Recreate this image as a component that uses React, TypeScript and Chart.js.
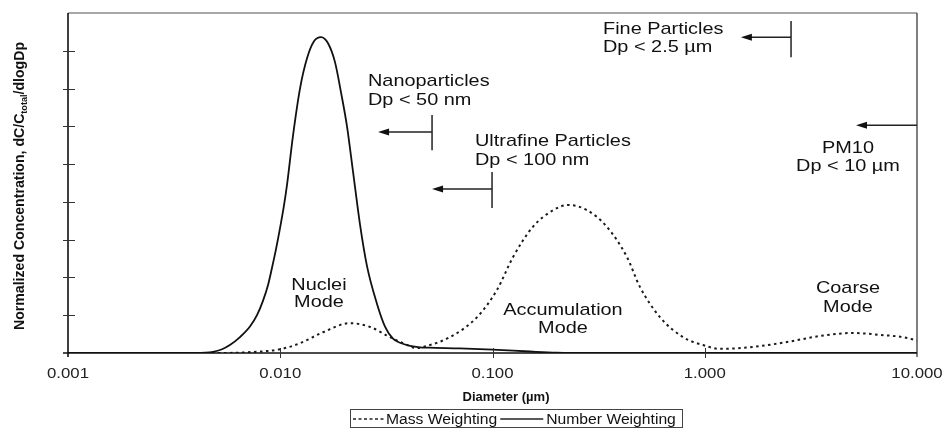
import { useEffect, useRef } from "react";
import { Chart, registerables } from "chart.js";

Chart.register(...registerables);

// ---- Data ----
const numberDiameters = [
  0.001, 0.004, 0.00482, 0.00532, 0.00579, 0.00646, 0.0072, 0.00777, 0.00829, 0.00876,
  0.00914, 0.00955, 0.00997, 0.01041, 0.01076, 0.01148, 0.01239, 0.01337, 0.01442,
  0.01556, 0.01679, 0.01811, 0.01933, 0.02063, 0.02202, 0.02376, 0.02563, 0.02857,
  0.03116, 0.03398, 0.03666, 0.04086, 0.04555, 0.05, 0.07, 0.1, 0.15, 0.2, 0.3, 10,
];
const numberWeighting = [
  0, 0, 0.03, 0.1, 0.21, 0.42, 0.7, 1.0, 1.38, 1.8,
  2.25, 2.75, 3.3, 3.9, 4.45, 5.75, 7.0, 7.8, 8.25,
  8.36, 8.2, 7.7, 6.9, 6.0, 4.8, 3.4, 2.3, 1.3,
  0.7, 0.38, 0.27, 0.19, 0.15, 0.14, 0.12, 0.09, 0.04, 0.01, 0, 0,
];

const massDiameters = [
  0.001, 0.005, 0.007, 0.00997, 0.0124, 0.0159, 0.0213, 0.0265, 0.0329, 0.0379,
  0.0441, 0.0485, 0.063, 0.0846, 0.105, 0.125, 0.155, 0.193, 0.227, 0.279, 0.346,
  0.43, 0.495, 0.615, 0.79, 0.982, 1.18, 1.36, 1.69, 2.44, 3.49, 4.99, 6.69, 8.59, 10,
];
const massWeighting = [
  0, 0, 0.02, 0.1, 0.26, 0.55, 0.79, 0.69, 0.42, 0.26,
  0.13, 0.18, 0.42, 0.95, 1.67, 2.54, 3.34, 3.78, 3.92, 3.78, 3.34,
  2.54, 1.75, 0.95, 0.42, 0.21, 0.11, 0.12, 0.16, 0.29, 0.45, 0.53, 0.48, 0.42, 0.33,
];

const xTickValues = [0.001, 0.01, 0.1, 1, 10];
const xTickLabels = ["0.001", "0.010", "0.100", "1.000", "10.000"];
const yTickValues = [0, 1, 2, 3, 4, 5, 6, 7, 8, 9];

const xAxisTitle = "Diameter (\u00b5m)";
const yAxisTitleParts = ["Normalized Concentration, dC/C", "total", "/dlogDp"];
const legendLabels = ["Mass Weighting", "Number Weighting"];

// Annotations: text lines anchored in data coordinates
type TextAnno = { lines: string[]; x: number; ys: number[]; align: "left" | "center" };
const textAnnotations: TextAnno[] = [
  { lines: ["Nanoparticles", "Dp < 50 nm"], x: 0.0259, ys: [7.23, 6.72], align: "left" },
  { lines: ["Ultrafine Particles", "Dp < 100 nm"], x: 0.0827, ys: [5.64, 5.13], align: "left" },
  { lines: ["Fine Particles", "Dp < 2.5 \u00b5m"], x: 0.3316, ys: [8.6, 8.13], align: "left" },
  { lines: ["PM10", "Dp < 10 \u00b5m"], x: 4.73, ys: [5.45, 4.98], align: "center" },
  { lines: ["Nuclei", "Mode"], x: 0.01522, ys: [1.83, 1.38], align: "center" },
  { lines: ["Accumulation", "Mode"], x: 0.2148, ys: [1.165, 0.69], align: "center" },
  { lines: ["Coarse", "Mode"], x: 4.73, ys: [1.75, 1.24], align: "center" },
];

type CutAnno = { x: number; barY: [number, number] | null; arrowY: number; tipX: number };
const cutAnnotations: CutAnno[] = [
  { x: 0.0519, barY: [5.37, 6.3], arrowY: 5.85, tipX: 0.0289 },
  { x: 0.0995, barY: [3.84, 4.79], arrowY: 4.34, tipX: 0.0519 },
  { x: 2.55, barY: [7.83, 8.79], arrowY: 8.36, tipX: 1.48 },
  { x: 10, barY: null, arrowY: 6.03, tipX: 5.16 },
];

const FONT = "'Liberation Sans', Arial, Helvetica, sans-serif";

function drawText(
  ctx: CanvasRenderingContext2D,
  s: string,
  x: number,
  capCenterY: number,
  size: number,
  sx: number,
  align: "left" | "center" | "right",
  bold = false,
  color = "#111"
) {
  ctx.save();
  ctx.font = `${bold ? "bold " : ""}${size}px ${FONT}`;
  ctx.fillStyle = color;
  ctx.textAlign = "left";
  ctx.textBaseline = "alphabetic";
  const w = ctx.measureText(s).width * sx;
  const x0 = align === "center" ? x - w / 2 : align === "right" ? x - w : x;
  ctx.translate(x0, capCenterY + size * 0.358);
  ctx.scale(sx, 1);
  ctx.fillText(s, 0, 0);
  ctx.restore();
}

const overlayPlugin = {
  id: "overlay",
  afterDatasetsDraw(chart: any) {
    const ctx: CanvasRenderingContext2D = chart.ctx;
    const xs = chart.scales.x;
    const ys = chart.scales.y;
    const { left, right, top, bottom } = chart.chartArea;

    ctx.save();
    // Frame: top & right grey, left & bottom black
    ctx.lineCap = "butt";
    ctx.strokeStyle = "#8a8a8a";
    ctx.lineWidth = 1.5;
    ctx.beginPath();
    ctx.moveTo(left, top);
    ctx.lineTo(right, top);
    ctx.stroke();
    ctx.strokeStyle = "#555";
    ctx.beginPath();
    ctx.moveTo(right, top);
    ctx.lineTo(right, bottom + 4);
    ctx.stroke();

    ctx.strokeStyle = "#111";
    ctx.lineWidth = 1.6;
    ctx.beginPath();
    ctx.moveTo(left, top);
    ctx.lineTo(left, bottom + 4);
    ctx.moveTo(left - 5, bottom);
    ctx.lineTo(right, bottom);
    ctx.stroke();

    // Y ticks (crossing the axis)
    ctx.lineWidth = 1;
    ctx.strokeStyle = "#333";
    yTickValues.forEach((v) => {
      if (v === 0 || v === 9) return;
      const py = Math.round(ys.getPixelForValue(v)) + 0.5;
      ctx.beginPath();
      ctx.moveTo(left - 5, py);
      ctx.lineTo(left + 7, py);
      ctx.stroke();
    });

    // X ticks
    xTickValues.forEach((v, i) => {
      const px = Math.round(xs.getPixelForValue(v)) + 0.5;
      if (i > 0 && i < xTickValues.length - 1) {
        ctx.beginPath();
        ctx.moveTo(px, bottom - 5);
        ctx.lineTo(px, bottom + 5);
        ctx.stroke();
      }
      drawText(ctx, xTickLabels[i], xs.getPixelForValue(v), 372.5, 14, 1.2, "center", false, "#222");
    });

    // X axis title
    drawText(ctx, xAxisTitle, 506, 396, 13, 1.0, "center", true, "#111");

    // Y axis title (rotated with subscript)
    ctx.save();
    const f1 = `bold 14px ${FONT}`;
    const f2 = `bold 9px ${FONT}`;
    ctx.font = f1;
    const w1 = ctx.measureText(yAxisTitleParts[0]).width;
    const w3 = ctx.measureText(yAxisTitleParts[2]).width;
    ctx.font = f2;
    const w2 = ctx.measureText(yAxisTitleParts[1]).width;
    const total = w1 + w2 + w3;
    const sx = 288 / total;
    ctx.translate(23.5, 186);
    ctx.rotate(-Math.PI / 2);
    ctx.scale(sx, 1);
    ctx.fillStyle = "#111";
    ctx.textBaseline = "alphabetic";
    let tx = -total / 2;
    ctx.font = f1;
    ctx.fillText(yAxisTitleParts[0], tx, 0);
    tx += w1;
    ctx.font = f2;
    ctx.fillText(yAxisTitleParts[1], tx, 3);
    tx += w2;
    ctx.font = f1;
    ctx.fillText(yAxisTitleParts[2], tx, 0);
    ctx.restore();

    // Cut-off bars and arrows
    ctx.strokeStyle = "#222";
    ctx.fillStyle = "#111";
    ctx.lineWidth = 1.5;
    cutAnnotations.forEach((c) => {
      const px = xs.getPixelForValue(c.x);
      if (c.barY) {
        ctx.beginPath();
        ctx.moveTo(px, ys.getPixelForValue(c.barY[0]));
        ctx.lineTo(px, ys.getPixelForValue(c.barY[1]));
        ctx.stroke();
      }
      const ay = ys.getPixelForValue(c.arrowY);
      const tip = xs.getPixelForValue(c.tipX);
      ctx.beginPath();
      ctx.moveTo(px, ay);
      ctx.lineTo(tip + 8, ay);
      ctx.stroke();
      ctx.beginPath();
      ctx.moveTo(tip, ay);
      ctx.lineTo(tip + 11, ay - 3.5);
      ctx.lineTo(tip + 11, ay + 3.5);
      ctx.closePath();
      ctx.fill();
    });

    // Text annotations
    textAnnotations.forEach((t) => {
      const px = xs.getPixelForValue(t.x);
      t.lines.forEach((line, i) => {
        drawText(ctx, line, px, ys.getPixelForValue(t.ys[i]), 17, 1.17, t.align, false, "#111");
      });
    });

    // Legend
    const bx0 = 350.5, bx1 = 682.5, by0 = 409.5, by1 = 427.5;
    ctx.strokeStyle = "#444";
    ctx.lineWidth = 1;
    ctx.strokeRect(bx0, by0, bx1 - bx0, by1 - by0);
    const ly = 419;
    const lsize = 14, lsx = 1.12;
    ctx.font = `${lsize}px ${FONT}`;
    const wm = ctx.measureText(legendLabels[0]).width * lsx;
    let cx = 353;
    ctx.lineWidth = 1.5;
    ctx.strokeStyle = "#222";
    ctx.setLineDash([3, 2.5]);
    ctx.beginPath();
    ctx.moveTo(cx, ly);
    ctx.lineTo(cx + 31, ly);
    ctx.stroke();
    ctx.setLineDash([]);
    cx += 33;
    drawText(ctx, legendLabels[0], cx, ly, lsize, lsx, "left");
    cx += wm + 3;
    ctx.beginPath();
    ctx.moveTo(cx, ly);
    ctx.lineTo(cx + 43, ly);
    ctx.stroke();
    cx += 46;
    drawText(ctx, legendLabels[1], cx, ly, lsize, lsx, "left");

    ctx.restore();
  },
};

export default function App() {
  const canvasRef = useRef<HTMLCanvasElement | null>(null);

  useEffect(() => {
    const canvas = canvasRef.current;
    if (!canvas) return;
    const chart = new Chart(canvas, {
      type: "line",
      data: {
        datasets: [
          {
            label: legendLabels[0],
            data: massDiameters.map((d, i) => ({ x: d, y: massWeighting[i] })),
            borderColor: "#1a1a1a",
            borderWidth: 2,
            borderDash: [2.5, 3.5],
            pointRadius: 0,
            cubicInterpolationMode: "monotone",
            fill: false,
          },
          {
            label: legendLabels[1],
            data: numberDiameters.map((d, i) => ({ x: d, y: numberWeighting[i] })),
            borderColor: "#111",
            borderWidth: 1.8,
            pointRadius: 0,
            cubicInterpolationMode: "monotone",
            fill: false,
          },
        ],
      },
      options: {
        responsive: false,
        animation: false,
        layout: { padding: { left: 68, top: 13, right: 30, bottom: 75 } },
        plugins: { legend: { display: false }, tooltip: { enabled: false } },
        scales: {
          x: { type: "logarithmic", min: 0.001, max: 10, display: false },
          y: { type: "linear", min: 0, max: 9, display: false },
        },
      },
      plugins: [overlayPlugin],
    } as any);
    return () => chart.destroy();
  }, []);

  return (
    <div style={{ position: "absolute", left: 0, top: 0, width: 947, height: 428, background: "#fff" }}>
      <canvas ref={canvasRef} width={947} height={428} style={{ display: "block" }} />
    </div>
  );
}
